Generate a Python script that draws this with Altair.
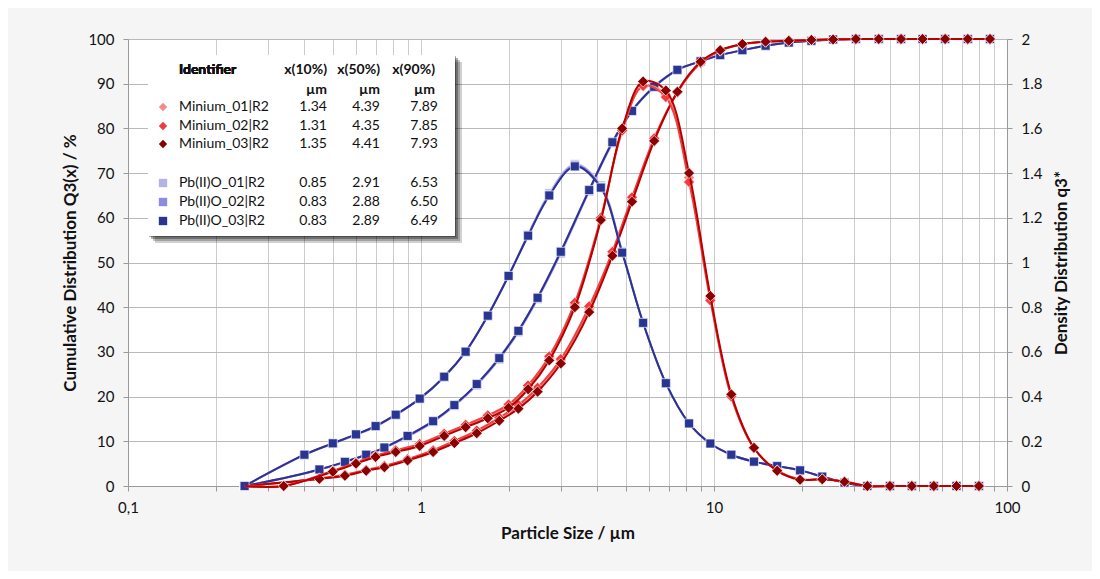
import altair as alt
import pandas as pd

# ---------------- data ----------------
XQ = [0.25, 0.45, 0.55, 0.65, 0.75, 0.90, 1.10, 1.30, 1.55, 1.85, 2.15, 2.50, 3.00, 3.75,
      4.50, 5.25, 6.25, 7.50, 9.00, 10.50, 12.50, 15.00, 18.00, 21.50, 25.50, 30.50, 36.50,
      43.50, 51.50, 61.50, 73.50, 87.50]
XD_MIN = [0.25, 0.34, 0.50, 0.60, 0.70, 0.82, 0.99, 1.20, 1.42, 1.69, 1.99, 2.32, 2.74, 3.35,
          4.11, 4.86, 5.73, 6.85, 8.22, 9.72, 11.46, 13.69, 16.43, 19.67, 23.41, 27.89, 33.37,
          39.85, 47.33, 56.28, 67.23, 80.20]
XD_PBO = [0.25, 0.40, 0.50, 0.60, 0.70, 0.82, 0.99, 1.20, 1.42, 1.69, 1.99, 2.32, 2.74, 3.35,
          4.11, 4.86, 5.73, 6.85, 8.22, 9.72, 11.46, 13.69, 16.43, 19.67, 23.41, 27.89, 33.37,
          39.85, 47.33, 56.28, 67.23, 80.20]

Q3_MIN_01 = [0, 1.6, 2.4, 3.5, 4.4, 5.9, 7.8, 9.9, 12.1, 15.0, 17.7, 21.6, 28.0, 39.6, 51.9,
             64.0, 77.4, 88.0, 94.7, 97.4, 98.8, 99.4, 99.6, 99.8, 99.9, 100, 100, 100, 100, 100, 100, 100]
Q3_MIN_02 = [0, 1.7, 2.5, 3.6, 4.5, 6.0, 8.0, 10.1, 12.4, 15.3, 18.1, 22.0, 28.4, 40.2, 52.4,
             64.6, 77.8, 88.1, 94.6, 97.4, 98.8, 99.4, 99.6, 99.8, 99.9, 100, 100, 100, 100, 100, 100, 100]
Q3_MIN_03 = [0, 1.6, 2.3, 3.4, 4.2, 5.7, 7.6, 9.6, 11.8, 14.6, 17.3, 21.1, 27.4, 38.9, 51.5,
             63.6, 77.2, 88.2, 94.9, 97.5, 98.9, 99.4, 99.6, 99.8, 99.9, 100, 100, 100, 100, 100, 100, 100]

D_MIN_01 = [0, 0, 0.066, 0.102, 0.133, 0.156, 0.184, 0.230, 0.270, 0.310, 0.358, 0.442, 0.572,
            0.81, 1.19, 1.59, 1.79, 1.75, 1.38, 0.84, 0.40, 0.170, 0.069, 0.029, 0.030, 0.019,
            0, 0, 0, 0, 0, 0]
D_MIN_02 = [0, 0, 0.068, 0.105, 0.136, 0.160, 0.188, 0.234, 0.274, 0.316, 0.365, 0.450, 0.580,
            0.82, 1.20, 1.59, 1.79, 1.74, 1.36, 0.83, 0.40, 0.170, 0.070, 0.030, 0.030, 0.020,
            0, 0, 0, 0, 0, 0]
D_MIN_03 = [0, 0, 0.064, 0.100, 0.130, 0.152, 0.179, 0.224, 0.263, 0.303, 0.350, 0.433, 0.562,
            0.80, 1.19, 1.60, 1.81, 1.77, 1.40, 0.85, 0.41, 0.171, 0.068, 0.028, 0.030, 0.019,
            0, 0, 0, 0, 0, 0]

Q3_PBO_01 = [0, 3.6, 5.3, 6.9, 8.5, 11.0, 14.3, 17.9, 22.5, 28.3, 34.4, 41.8, 52.0, 65.9, 76.7,
             83.8, 89.2, 93.0, 95.0, 96.4, 97.5, 98.5, 99.2, 99.6, 99.9, 100, 100, 100, 100, 100, 100, 100]
Q3_PBO_02 = [0, 3.7, 5.4, 7.0, 8.6, 11.2, 14.5, 18.1, 22.8, 28.7, 34.8, 42.2, 52.5, 66.3, 77.0,
             84.0, 89.4, 93.1, 95.0, 96.4, 97.5, 98.5, 99.2, 99.6, 99.9, 100, 100, 100, 100, 100, 100, 100]
Q3_PBO_03 = [0, 3.7, 5.4, 7.0, 8.6, 11.2, 14.5, 18.1, 22.8, 28.6, 34.7, 42.1, 52.4, 66.2, 76.9,
             83.9, 89.3, 93.1, 95.0, 96.4, 97.5, 98.5, 99.2, 99.6, 99.9, 100, 100, 100, 100, 100, 100, 100]

D_PBO_01 = [0, 0.138, 0.189, 0.229, 0.266, 0.317, 0.389, 0.487, 0.600, 0.762, 0.942, 1.125, 1.31,
            1.44, 1.345, 1.050, 0.73, 0.46, 0.28, 0.19, 0.14, 0.109, 0.089, 0.070, 0.042, 0.015,
            0, 0, 0, 0, 0, 0]
D_PBO_02 = [0, 0.140, 0.190, 0.230, 0.267, 0.318, 0.390, 0.488, 0.601, 0.762, 0.941, 1.122, 1.30,
            1.435, 1.338, 1.046, 0.73, 0.46, 0.28, 0.19, 0.14, 0.109, 0.089, 0.070, 0.042, 0.015,
            0, 0, 0, 0, 0, 0]
D_PBO_03 = [0, 0.140, 0.191, 0.231, 0.268, 0.319, 0.391, 0.489, 0.601, 0.762, 0.940, 1.120, 1.30,
            1.43, 1.335, 1.044, 0.73, 0.46, 0.28, 0.19, 0.14, 0.109, 0.089, 0.070, 0.042, 0.015,
            0, 0, 0, 0, 0, 0]

IDENTIFIERS = ["Minium_01|R2", "Minium_02|R2", "Minium_03|R2",
               "Pb(II)O_01|R2", "Pb(II)O_02|R2", "Pb(II)O_03|R2"]
X10 = [1.34, 1.31, 1.35, 0.85, 0.83, 0.83]
X50 = [4.39, 4.35, 4.41, 2.91, 2.88, 2.89]
X90 = [7.89, 7.85, 7.93, 6.53, 6.50, 6.49]

X_TICKS = [0.1, 0.2, 0.3, 0.4, 0.5, 0.6, 0.7, 0.8, 0.9, 1, 2, 3, 4, 5, 6, 7, 8, 9,
           10, 20, 30, 40, 50, 60, 70, 80, 90, 100]
Y_TICKS = [0, 10, 20, 30, 40, 50, 60, 70, 80, 90, 100]
D_TICKS = [0, 0.2, 0.4, 0.6, 0.8, 1, 1.2, 1.4, 1.6, 1.8, 2]

# ---------------- styles ----------------
LINE_COL = {"Minium_01": "#f28888", "Minium_02": "#f04040", "Minium_03": "#b80000",
            "PbO_01": "#b4b4e8", "PbO_02": "#8c8ce0", "PbO_03": "#2e3192"}
FILL_COL = {"Minium_01": "#f48a8a", "Minium_02": "#f03c3c", "Minium_03": "#8b0000",
            "PbO_01": "#b3b3e6", "PbO_02": "#8c8cdf", "PbO_03": "#283593"}

FONT = "Lato"
xscale = alt.Scale(type="log", domain=[0.1, 100], nice=False)
xaxis = alt.Axis(values=X_TICKS, grid=True, gridColor="#cccccc", gridWidth=1,
                 tickSize=5, tickColor="#999999", domainColor="#999999",
                 labelExpr="datum.value == 0.1 ? '0,1' : datum.value == 1 ? '1' : datum.value == 10 ? '10' : datum.value == 100 ? '100' : ''",
                 labelOverlap=False, labelFlush=False, labelPadding=9,
                 title="Particle Size / µm", titlePadding=10)
yaxis_l = alt.Axis(values=Y_TICKS, orient="left", grid=True, gridColor="#b9b9b9",
                   tickSize=5, tickColor="#999999", domainColor="#999999",
                   labelPadding=9, title="Cumulative Distribution Q3(x) / %", titlePadding=8)
yaxis_r = alt.Axis(values=D_TICKS, orient="right", grid=False, format=".1~f",
                   tickSize=5, tickColor="#999999", domainColor="#999999",
                   labelPadding=9, title="Density Distribution q3*", titleAngle=270,
                   titleBaseline="top", titlePadding=12)


def series(xs, vals, key, shape, size, domain, yaxis, interp, skip_first):
    df = pd.DataFrame({"x": xs, "v": vals})
    base = alt.Chart(df).encode(
        x=alt.X("x:Q", scale=xscale, axis=xaxis),
        y=alt.Y("v:Q", scale=alt.Scale(domain=domain, nice=False), axis=yaxis),
    )
    line = base.mark_line(color=LINE_COL[key], strokeWidth=2, interpolate=interp)
    pts = base.mark_point(shape=shape, filled=True, fill=FILL_COL[key], size=size,
                          stroke="#ffffff", strokeWidth=0.8, strokeOpacity=0.8, opacity=1)
    if skip_first:
        pts = pts.transform_filter(alt.datum.x > 0.25)
    return [line, pts]


q3_layers = []
d_layers = []
sets = [
    ("PbO_01", Q3_PBO_01, XD_PBO, D_PBO_01, "square", 80, False),
    ("PbO_02", Q3_PBO_02, XD_PBO, D_PBO_02, "square", 80, False),
    ("PbO_03", Q3_PBO_03, XD_PBO, D_PBO_03, "square", 80, False),
    ("Minium_01", Q3_MIN_01, XD_MIN, D_MIN_01, "diamond", 120, True),
    ("Minium_02", Q3_MIN_02, XD_MIN, D_MIN_02, "diamond", 120, True),
    ("Minium_03", Q3_MIN_03, XD_MIN, D_MIN_03, "diamond", 120, True),
]
for key, q3, xd, dd, shp, sz, skip in sets:
    q3_layers += series(XQ, q3, key, shp, sz, [0, 100], yaxis_l, "monotone", skip)
    d_layers += series(xd, dd, key, shp, sz, [0, 2], yaxis_r, "catmull-rom", skip)

cum_group = alt.layer(*q3_layers)
dens_group = alt.layer(*d_layers)

# ---------------- legend table ----------------
ROW_Y = [68, 87, 105, 144, 163, 182]
SYM_COL = [FILL_COL["Minium_01"], FILL_COL["Minium_02"], FILL_COL["Minium_03"],
           FILL_COL["PbO_01"], FILL_COL["PbO_02"], FILL_COL["PbO_03"]]
SYM_SHAPE = ["diamond"] * 3 + ["square"] * 3
leg = pd.DataFrame({
    "name": IDENTIFIERS,
    "x10": [f"{v:.2f}" for v in X10],
    "x50": [f"{v:.2f}" for v in X50],
    "x90": [f"{v:.2f}" for v in X90],
    "py": ROW_Y,
    "col": SYM_COL,
    "shp": SYM_SHAPE,
})
SZ = 14
shadows = []
for off, op in [(7, 0.03), (5, 0.04), (3, 0.06), (1, 0.06)]:
    shadows.append(alt.Chart(leg).mark_rect(color="#000000", opacity=op).encode(
        x=alt.value(20 + off), x2=alt.value(327 + off), y=alt.value(16 + off), y2=alt.value(197 + off)))
box = alt.Chart(leg).mark_rect(color="#ffffff").encode(
    x=alt.value(20), x2=alt.value(327), y=alt.value(16), y2=alt.value(197))
ybase = alt.Y("py:Q", scale=None, axis=None)
syms = alt.Chart(leg).mark_point(filled=True, size=70, opacity=1).encode(
    x=alt.value(35), y=ybase,
    fill=alt.Color("col:N", scale=None), color=alt.Color("col:N", scale=None),
    shape=alt.Shape("shp:N", scale=None))
names = alt.Chart(leg).mark_text(align="left", baseline="middle", font=FONT, fontSize=SZ,
                                 color="#111111").encode(x=alt.value(51), y=ybase, text="name:N")
c10 = alt.Chart(leg).mark_text(align="right", baseline="middle", font=FONT, fontSize=SZ,
                               color="#111111").encode(x=alt.value(199), y=ybase, text="x10:N")
c50 = alt.Chart(leg).mark_text(align="right", baseline="middle", font=FONT, fontSize=SZ,
                               color="#111111").encode(x=alt.value(252), y=ybase, text="x50:N")
c90 = alt.Chart(leg).mark_text(align="right", baseline="middle", font=FONT, fontSize=SZ,
                               color="#111111").encode(x=alt.value(310), y=ybase, text="x90:N")

HEAD = pd.DataFrame({
    "t": ["x(10%)", "x(50%)", "x(90%)", "µm", "µm", "µm"],
    "px": [199, 252, 307, 199, 252, 307],
    "py": [31, 31, 31, 51, 51, 51],
})
heads = alt.Chart(HEAD).mark_text(align="right", baseline="middle", font=FONT, fontSize=SZ,
                                  fontWeight="bold", color="#111111").encode(
    x=alt.X("px:Q", scale=None, axis=None), y=alt.Y("py:Q", scale=None, axis=None), text="t:N")
ident = alt.Chart(leg).mark_text(align="left", baseline="middle", font=FONT, fontSize=SZ,
                                 fontWeight="bold", color="#111111", text="Identifier").encode(
    x=alt.value(51), y=alt.value(31))

legend_group = alt.layer(*shadows, box, syms, names, c10, c50, c90, heads, ident)

chart = alt.layer(cum_group, dens_group, legend_group).resolve_scale(
    y="independent"
).properties(
    width=879, height=447,
    autosize=alt.AutoSizeParams(type="none"),
    padding={"left": 120, "top": 31, "right": 85, "bottom": 85},
    background="#f5f5f5",
).configure_view(
    fill="#ffffff", stroke=None
).configure_axis(
    labelFont=FONT, titleFont=FONT, labelFontSize=15, titleFontSize=17,
    titleFontWeight="bold", labelColor="#111111", titleColor="#111111",
)

chart.save("out.html", embed_options={"renderer": "svg", "actions": False})
